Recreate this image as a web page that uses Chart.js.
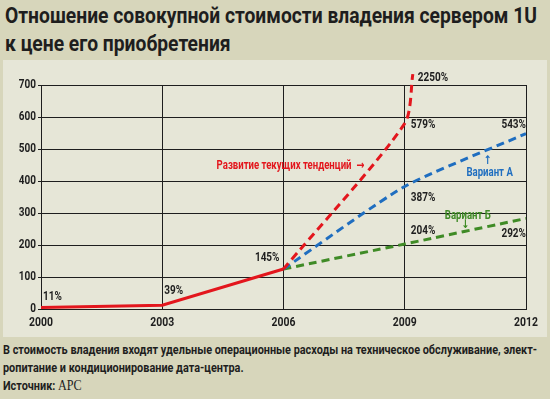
<!DOCTYPE html>
<html lang="ru">
<head>
<meta charset="utf-8">
<title>Отношение совокупной стоимости владения сервером 1U</title>
<script src="https://cdn.jsdelivr.net/npm/chart.js@4/dist/chart.umd.min.js"></script>
<style>
  html, body { margin: 0; padding: 0; }
  body {
    width: 550px; height: 399px; overflow: hidden; position: relative;
    background: #d7d6bb; color: #1e1e1e;
    font-family: Roboto, 'DejaVu Sans', sans-serif;
  }
  .squeeze { position: absolute; white-space: nowrap; transform-origin: 0 0; }
  .squeeze span { display: inline-block; }
  #title { left: 5px; top: 2px; font-size: 22px; font-weight: bold; line-height: 28px; }
  #panel {
    position: absolute; left: 3px; top: 60px; width: 544px; height: 277px;
    background: #e6e6d7;
  }
  #note { left: 3px; top: 341px; font-size: 12.5px; font-weight: bold; line-height: 18px; }
  #note .src { font-family: 'Liberation Serif', serif; font-weight: normal; font-size: 14px; }
</style>
</head>
<body>
<div id="title" class="squeeze" data-width="532"><span>Отношение совокупной стоимости владения сервером 1U</span><br><span>к цене его приобретения</span></div>
<div id="panel"><canvas id="chart" width="544" height="277"></canvas></div>
<div id="note" class="squeeze" data-width="534"><span>В стоимость владения входят удельные операционные расходы на техническое обслуживание, элект-</span><br><span>ропитание и кондиционирование дата-центра.</span><br><span>Источник: <span class="src">APC</span></span></div>
<script>
// --- data ---
const yearTicks = [2000, 2003, 2006, 2009, 2012];
const valueTicks = [0, 100, 200, 300, 400, 500, 600, 700];

// solid part (fact)
const factYears = [2000, 2003, 2006];
const factValues = [5, 12, 125];
const factLabels = ['11%', '39%', '145%'];

// red dashed: current trends, runs off the top of the grid
const trendYears = [2006, 2009, 2009.2];
const trendValues = [125, 580, 734];
const trendLabels = ['', '579%', '2250%'];

// variant A (blue)
const varAYears = [2006, 2009, 2012];
const varAValues = [125, 383, 548];
const varALabels = ['', '387%', '543%'];

// variant B (green)
const varBYears = [2006, 2009, 2012];
const varBValues = [125, 203, 283];
const varBLabels = ['', '204%', '292%'];

const RED = '#e3161d';
const BLUE = '#1f6ec0';
const GREEN = '#3f8b26';
const INK = '#1e1e1e';
const FONT = "Roboto, 'DejaVu Sans', sans-serif";
const SQUEEZE = 0.8;

// fit the html text blocks to the widths of the original lines
document.querySelectorAll('.squeeze').forEach(el => {
  const natural = el.querySelector('span').getBoundingClientRect().width;
  el.style.transform = 'scaleX(' + (+el.dataset.width / natural) + ')';
});

const toPoints = (xs, ys) => xs.map((x, i) => ({ x, y: ys[i] }));

function drawNarrow(ctx, text, px, py, align, base) {
  ctx.save();
  ctx.translate(px, py);
  ctx.scale(SQUEEZE, 1);
  ctx.textAlign = align;
  ctx.textBaseline = base;
  ctx.fillText(text, 0, 0);
  ctx.restore();
}

// value labels: [dataset index, point index, dx, dy, align, baseline]
const valueLabelPlacement = [
  [0, 0, 2, -4, 'left', 'bottom'],
  [0, 1, 2, -8, 'left', 'bottom'],
  [0, 2, -4, -5, 'right', 'bottom'],
  [1, 1, 6, 1, 'left', 'middle'],
  [1, 2, 5, 4, 'left', 'middle'],
  [2, 1, 6, 5, 'left', 'top'],
  [2, 2, 0, -3, 'right', 'bottom'],
  [3, 1, 6, -7, 'left', 'bottom'],
  [3, 2, 0, 9, 'right', 'top']
];

// callouts anchored in data units
const callouts = [
  { text: 'Развитие текущих тенденций  →', x: 2008, y: 447, color: RED, align: 'right' },
  { text: 'Вариант А', x: 2011.1, y: 425, color: BLUE, align: 'center' },
  { text: '↑', x: 2011.05, y: 462, color: BLUE, align: 'center' },
  { text: 'Вариант Б', x: 2010.56, y: 292, color: GREEN, align: 'center' },
  { text: '↓', x: 2010.5, y: 262, color: GREEN, align: 'center' }
];

const textPlugin = {
  id: 'chartText',
  afterDraw(chart) {
    const { ctx, scales: { x, y } } = chart;
    ctx.save();
    ctx.fillStyle = INK;
    // axis tick labels
    ctx.font = 'bold 13px ' + FONT;
    x.ticks.forEach(t => drawNarrow(ctx, String(t.value), x.getPixelForValue(t.value), y.bottom + 7, 'center', 'top'));
    ctx.font = 'bold 12.5px ' + FONT;
    y.ticks.forEach(t => drawNarrow(ctx, String(t.value), x.left - 5, y.getPixelForValue(t.value), 'right', 'middle'));
    // point value labels
    ctx.font = 'bold 12.5px ' + FONT;
    valueLabelPlacement.forEach(([di, pi, dx, dy, align, base]) => {
      const ds = chart.data.datasets[di];
      const p = ds.data[pi];
      drawNarrow(ctx, ds.valueLabels[pi], x.getPixelForValue(p.x) + dx, y.getPixelForValue(p.y) + dy, align, base);
    });
    // callouts
    ctx.font = 'bold 12px ' + FONT;
    callouts.forEach(c => {
      ctx.fillStyle = c.color;
      drawNarrow(ctx, c.text, x.getPixelForValue(c.x), y.getPixelForValue(c.y), c.align, 'middle');
    });
    ctx.restore();
  }
};

new Chart(document.getElementById('chart'), {
  type: 'line',
  data: {
    datasets: [
      {
        data: toPoints(factYears, factValues),
        valueLabels: factLabels,
        borderColor: RED,
        borderWidth: 3,
        pointRadius: 0,
        tension: 0
      },
      {
        data: toPoints(trendYears, trendValues),
        valueLabels: trendLabels,
        borderColor: RED,
        backgroundColor: RED,
        borderWidth: 3,
        borderDash: [8, 5],
        tension: 0.25,
        pointStyle: 'triangle',
        pointRadius: [0, 0, 6],
        pointRotation: 10,
        pointBorderWidth: 0,
        clip: false
      },
      {
        data: toPoints(varAYears, varAValues),
        valueLabels: varALabels,
        borderColor: BLUE,
        borderWidth: 3,
        borderDash: [8, 5],
        tension: 0.2,
        pointRadius: 0
      },
      {
        data: toPoints(varBYears, varBValues),
        valueLabels: varBLabels,
        borderColor: GREEN,
        borderWidth: 3,
        borderDash: [8, 5],
        tension: 0.15,
        pointRadius: 0
      }
    ]
  },
  options: {
    responsive: false,
    animation: false,
    layout: { padding: { top: 25, right: 21, left: 0, bottom: 0 } },
    plugins: {
      legend: { display: false },
      tooltip: { enabled: false }
    },
    scales: {
      x: {
        type: 'linear',
        min: yearTicks[0],
        max: yearTicks[yearTicks.length - 1],
        afterBuildTicks: s => { s.ticks = yearTicks.map(v => ({ value: v })); },
        afterFit: s => { s.height = 28; },
        grid: { color: INK, lineWidth: 1, drawTicks: false },
        border: { color: INK, width: 1 },
        ticks: { display: false }
      },
      y: {
        min: valueTicks[0],
        max: valueTicks[valueTicks.length - 1],
        afterBuildTicks: s => { s.ticks = valueTicks.map(v => ({ value: v })); },
        afterFit: s => { s.width = 38; },
        grid: { color: INK, lineWidth: 1, tickLength: 3 },
        border: { color: INK, width: 1 },
        ticks: { display: false }
      }
    }
  },
  plugins: [textPlugin]
});
</script>
</body>
</html>
